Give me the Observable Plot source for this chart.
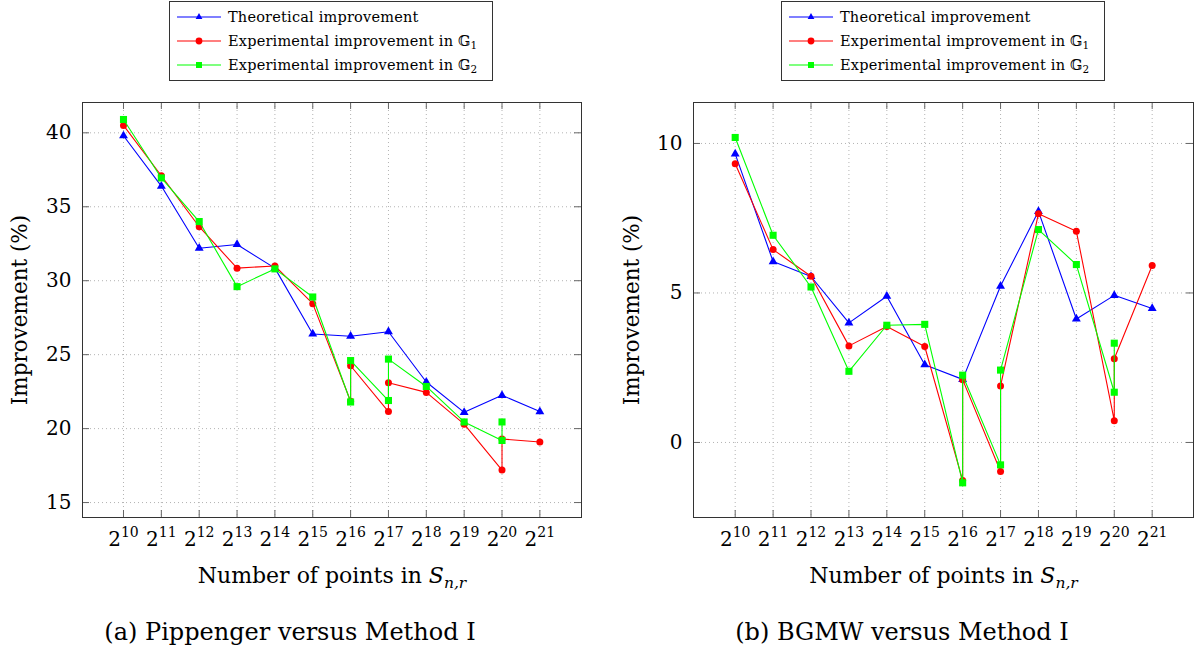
<!DOCTYPE html>
<html><head><meta charset="utf-8">
<script src="https://cdn.jsdelivr.net/npm/d3@7"></script>
<script src="https://cdn.jsdelivr.net/npm/@observablehq/plot@0.6"></script>
<style>
body{margin:0;background:#fff;}
#root{position:relative;width:1198px;height:654px;font-family:"DejaVu Serif",serif;color:#000;overflow:hidden;}
.panel{position:absolute;top:85px;}
.legend{position:absolute;top:1px;width:322px;height:78px;border:1px solid #333;background:#fff;font-size:14.5px;letter-spacing:0.2px;}
.row{position:absolute;left:6px;height:20px;display:flex;align-items:center;white-space:nowrap;}
.row svg{margin-right:6px;}
.caption{position:absolute;top:617px;width:580px;height:30px;line-height:30px;text-align:center;font-size:24px;white-space:nowrap;}
sub{font-size:0.72em;vertical-align:-0.25em;line-height:0;}
</style></head><body><div id="root"></div>
<script>
// ---- data ----
const exponents = [10, 11, 12, 13, 14, 15, 16, 17, 18, 19, 20, 21];
const seriesNames = ["Theoretical improvement", "Experimental improvement in 𝔾|1", "Experimental improvement in 𝔾|2"];
const seriesColors = ["#0000ff", "#ff0000", "#00ff00"];
const seriesSymbols = ["triangle", "circle", "square"];

// (a) Pippenger versus Method I
const pipTheoreticalExp = [10, 11, 12, 13, 14, 15, 16, 17, 18, 19, 20, 21];
const pipTheoretical = [39.8, 36.4, 32.2, 32.45, 30.85, 26.4, 26.25, 26.55, 23.15, 21.1, 22.25, 21.15];
const pipG1Exp = [10, 11, 12, 13, 14, 15, 16, 16, 17, 17, 18, 19, 20, 20, 21];
const pipG1 = [40.5, 37.1, 33.65, 30.85, 31.0, 28.45, 21.85, 24.25, 21.15, 23.1, 22.45, 20.3, 17.2, 19.3, 19.1];
const pipG2Exp = [10, 11, 12, 13, 14, 15, 16, 16, 17, 17, 18, 19, 20, 20];
const pipG2 = [40.9, 36.95, 34.0, 29.6, 30.8, 28.9, 21.8, 24.6, 21.9, 24.7, 22.85, 20.45, 19.2, 20.45];
const pipYTicks = [15, 20, 25, 30, 35, 40];

// (b) BGMW versus Method I
const bgmwTheoreticalExp = [10, 11, 12, 13, 14, 15, 16, 17, 18, 19, 20, 21];
const bgmwTheoretical = [9.65, 6.05, 5.55, 4.0, 4.89, 2.6, 2.11, 5.23, 7.73, 4.13, 4.92, 4.48];
const bgmwG1Exp = [10, 11, 12, 13, 14, 15, 16, 16, 17, 17, 18, 19, 20, 20, 21];
const bgmwG1 = [9.32, 6.45, 5.56, 3.23, 3.88, 3.21, -1.27, 2.1, -0.97, 1.89, 7.65, 7.06, 0.73, 2.8, 5.92];
const bgmwG2Exp = [10, 11, 12, 13, 14, 15, 16, 16, 17, 17, 18, 19, 20, 20];
const bgmwG2 = [10.2, 6.93, 5.2, 2.38, 3.92, 3.95, -1.35, 2.25, -0.75, 2.42, 7.12, 5.95, 1.68, 3.32];
const bgmwYTicks = [0, 5, 10];

const xLabel = "Number of points in S|n,r";
const yLabel = "Improvement (%)";
const captions = ["(a) Pippenger versus Method I", "(b) BGMW versus Method I"];

// ---- drawing ----
const root = document.getElementById("root");
const H = 510, MT = 17, MB = 78;

function makePanel(cfg) {
  const innerH = H - MT - MB;
  const innerW = cfg.width - cfg.marginLeft - cfg.marginRight;
  const series = cfg.series.map(([xs, ys]) => xs.map((x, i) => ({x, y: ys[i]})));
  const symR = {triangle: 3.3, circle: 3.5, square: 4};
  const marks = [
    Plot.gridX(exponents, {stroke: "#aaa", strokeOpacity: 1, strokeWidth: 0.9, strokeDasharray: "1,3"}),
    Plot.gridY(cfg.yTicks, {stroke: "#aaa", strokeOpacity: 1, strokeWidth: 0.9, strokeDasharray: "1,3"}),
    Plot.tickX(exponents, {x: d => d, insetTop: innerH - 7, stroke: "#666"}),
    Plot.tickX(exponents, {x: d => d, insetBottom: innerH - 7, stroke: "#666"}),
    Plot.tickY(cfg.yTicks, {y: d => d, insetRight: innerW - 7, stroke: "#666"}),
    Plot.tickY(cfg.yTicks, {y: d => d, insetLeft: innerW - 7, stroke: "#666"}),
    Plot.axisX(exponents, {tickSize: 0, tickPadding: 14, fontSize: 20, tickFormat: d => "2|" + d, label: null}),
    Plot.axisY(cfg.yTicks, {tickSize: 0, tickPadding: 11, fontSize: 20, label: null})
  ];
  series.forEach((data, k) => {
    marks.push(Plot.line(data, {x: "x", y: "y", stroke: seriesColors[k], strokeWidth: 1.1}));
    marks.push(Plot.dot(data, {x: "x", y: "y", symbol: seriesSymbols[k], r: symR[seriesSymbols[k]], fill: seriesColors[k], stroke: "none"}));
  });
  marks.push(
    Plot.frame({stroke: "#333", strokeWidth: 1}),
    Plot.text([yLabel], {text: d => d, frameAnchor: "left", dx: cfg.yLabelDx, rotate: -90, fontSize: 21.5, textAnchor: "middle", lineAnchor: "middle"}),
    Plot.text([xLabel], {text: d => d, frameAnchor: "bottom", dy: 58, fontSize: 22, textAnchor: "middle", lineAnchor: "middle"})
  );
  const svg = Plot.plot({
    width: cfg.width, height: H,
    marginLeft: cfg.marginLeft, marginRight: cfg.marginRight, marginTop: MT, marginBottom: MB,
    style: {fontFamily: "'DejaVu Serif', serif", background: "transparent", color: "#000", overflow: "visible"},
    x: {domain: cfg.xDomain},
    y: {domain: cfg.yDomain},
    marks
  });
  // rich text: superscripts / subscripts
  d3.select(svg).selectAll("text").each(function () {
    const t = this.textContent;
    const sel = d3.select(this);
    if (/^2\|\d+$/.test(t)) {
      const [b, e] = t.split("|");
      sel.text(b);
      sel.append("tspan").attr("dy", "-9").attr("font-size", "14").text(e);
    } else if (t === xLabel) {
      const [a, sub] = t.split("|");
      sel.text(a.slice(0, -1));
      sel.append("tspan").attr("font-style", "italic").text("S");
      sel.append("tspan").attr("font-style", "italic").attr("font-size", "15.5").attr("dy", "5").text(sub);
    }
  });
  const div = document.createElement("div");
  div.className = "panel";
  div.style.left = cfg.left + "px";
  div.appendChild(svg);
  root.appendChild(div);
}

makePanel({
  left: 0, width: 600, marginLeft: 82, marginRight: 19,
  xDomain: [8.917, 22.1], yDomain: [13.99, 42.05], yTicks: pipYTicks, yLabelDx: -62,
  series: [[pipTheoreticalExp, pipTheoretical], [pipG1Exp, pipG1], [pipG2Exp, pipG2]]
});
makePanel({
  left: 612, width: 586, marginLeft: 81, marginRight: 5,
  xDomain: [8.9, 22.09], yDomain: [-2.51, 11.37], yTicks: bgmwYTicks, yLabelDx: -61,
  series: [[bgmwTheoreticalExp, bgmwTheoretical], [bgmwG1Exp, bgmwG1], [bgmwG2Exp, bgmwG2]]
});

// legends
function symbolPath(sym) {
  return d3.symbol(sym === "triangle" ? d3.symbolTriangle : sym === "circle" ? d3.symbolCircle : d3.symbolSquare,
    sym === "triangle" ? 20 : 36)();
}
function makeLegend(left) {
  const box = document.createElement("div");
  box.className = "legend";
  box.style.left = left + "px";
  [5, 29, 53].forEach((top, k) => {
    const row = document.createElement("div");
    row.className = "row";
    row.style.top = top + "px";
    const [main, sub] = seriesNames[k].split("|");
    row.innerHTML = `<svg width="46" height="12"><line x1="1" x2="45" y1="6" y2="6" stroke="${seriesColors[k]}" stroke-width="1.2"/>` +
      `<path transform="translate(23,6)" d="${symbolPath(seriesSymbols[k])}" fill="${seriesColors[k]}"/></svg>` +
      `<span>${main}${sub ? `<sub>${sub}</sub>` : ""}</span>`;
    box.appendChild(row);
  });
  root.appendChild(box);
}
makeLegend(169);
makeLegend(781);

// captions, centred under each subfigure
[[0, 0], [612, 1]].forEach(([left, k]) => {
  const c = document.createElement("div");
  c.className = "caption";
  c.style.left = left + "px";
  c.textContent = captions[k];
  root.appendChild(c);
});
</script>
</body></html>
